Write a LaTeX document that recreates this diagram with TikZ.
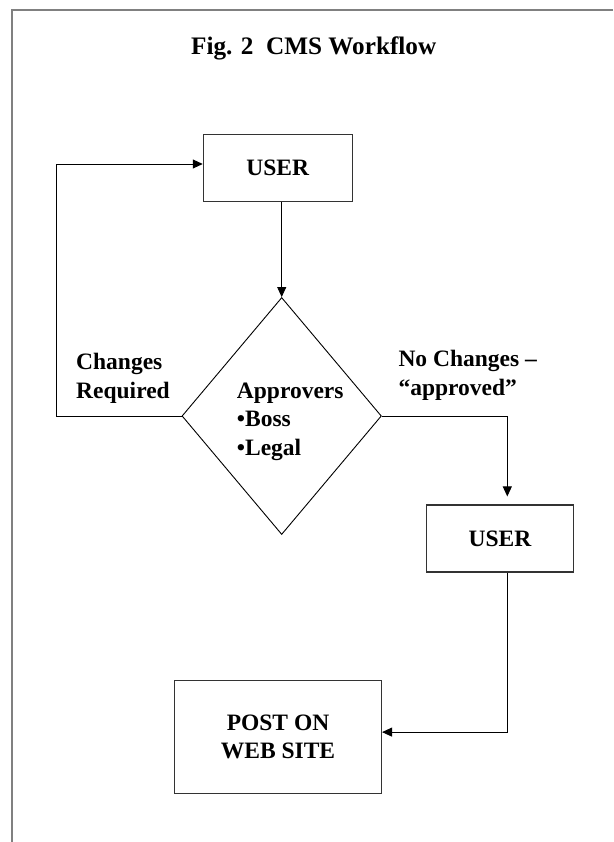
\documentclass[tikz,border=0pt]{standalone}
\usepackage{fontspec}
\setmainfont{Liberation Serif}
\usetikzlibrary{shapes.geometric,arrows.meta}
\begin{document}
\begin{tikzpicture}[x=1pt,y=-1pt,
  txt/.style={font=\bfseries\fontsize{23.5}{28.5}\selectfont},
  box/.style={draw=black!80,line width=1.1pt,txt,inner sep=0pt},
  flow/.style={draw,line width=0.9pt,-{Triangle[length=10pt,width=9pt]}},
  lab/.style={txt,align=left,anchor=base west,inner sep=0pt}]
\useasboundingbox (0,0) rectangle (613,842);
% page frame
\draw[gray,line width=2pt] (613,10) -- (12,10) -- (12,842);
\node[anchor=base,font=\bfseries\fontsize{25.2}{30}\selectfont] (title) at (313.7,54.7) {Fig. 2\ \ CMS Workflow};
% boxes and decision
\node[box,minimum width=149pt,minimum height=66.6pt] (user1) at (277.8,168) {USER};
\node[diamond,draw,line width=0.9pt,minimum width=199.4pt,minimum height=237pt,inner sep=0pt] (dec) at (281.7,416) {};
\node[lab] (appr) at (236.7,455) {Approvers\\•Boss\\•Legal};
\node[box,minimum width=147.7pt,minimum height=67pt] (user2) at (499.9,538.5) {USER};
\node[box,align=center,minimum width=207pt,minimum height=113.4pt] (post) at (278,736.8) {POST ON\\WEB SITE};
% branch labels
\node[lab] (chg) at (76,398) {Changes\\Required};
\node[lab] (nochg) at (398.3,395) {No Changes –\\“approved”};
% connectors
\coordinate (loop) at (56,416);
\draw[flow] (dec.north |- user1.south) -- (dec.north);
\draw[flow] (dec.west) -- (loop) |- ([yshift=4pt]user1.west);
\draw[flow,shorten >=8pt] (dec.east) -| ([xshift=7.4pt]user2.north);
\draw[flow] ([xshift=7.4pt]user2.south) |- ([yshift=4.7pt]post.east);
\end{tikzpicture}
\end{document}
